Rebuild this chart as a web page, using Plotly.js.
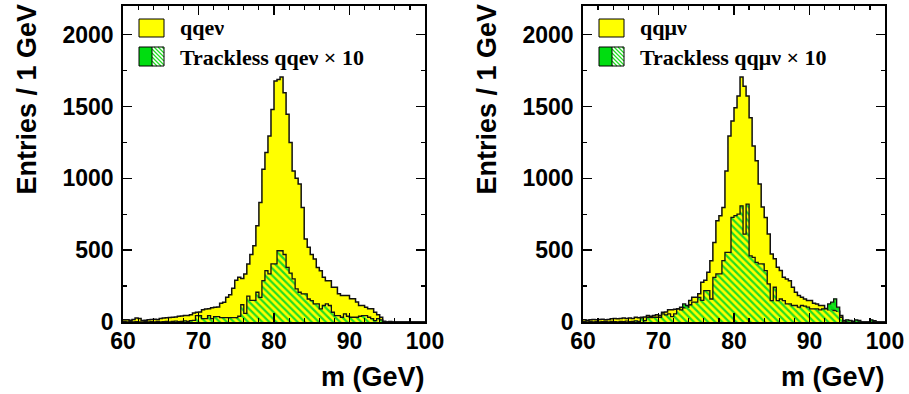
<!DOCTYPE html>
<html><head><meta charset="utf-8">
<script src="https://cdn.plot.ly/plotly-3.0.1.min.js"></script>
<style>html,body{margin:0;padding:0;background:#fff}#chart{width:909px;height:394px}</style>
</head><body><div id="chart"></div>
<script>
// Histogram binning: 60..100 GeV, 0.4 GeV bins
const binLow = 60, binHigh = 100, nBins = 100;

// Left panel: qq e nu, and trackless qq e nu (x10)
const qqenu = [
  15,15,12,18,28,25,10,12,15,18,
  20,18,25,28,30,32,33,35,40,42,
  45,45,50,62,68,70,85,90,92,100,
  103,105,130,138,172,190,235,290,311,302,
  335,404,470,531,670,832,1064,1180,1295,1480,
  1677,1689,1705,1596,1446,1249,1052,1000,960,797,
  578,520,470,439,380,357,311,288,288,242,
  242,196,184,184,184,161,161,140,115,115,
  103,92,92,68,50,33,5,0,3,0,
  0,0,0,0,0,0,0,0,0,0
];
const tracklessQqenu = [
  5,0,3,0,2,0,0,4,0,3,
  0,5,0,3,5,0,4,6,3,5,
  8,5,10,12,45,45,24,24,45,24,
  38,38,30,30,30,30,30,30,40,120,
  60,180,150,150,207,172,288,357,335,404,
  404,496,496,470,380,340,300,230,207,196,
  196,160,149,126,126,92,115,126,115,68,
  45,45,33,57,40,33,33,33,40,45,
  45,33,24,10,24,15,0,0,0,0,
  0,0,0,0,0,0,0,0,0,0
];
// Right panel: qq mu nu, and trackless qq mu nu (x10)
const qqmunu = [
  15,12,15,18,15,18,20,15,18,22,
  25,22,25,28,25,28,25,33,30,33,
  35,45,40,45,50,45,68,70,85,85,
  88,92,103,100,103,150,172,172,196,276,
  290,346,427,554,705,740,797,1052,1295,1400,
  1492,1573,1705,1642,1573,1422,1226,1122,960,800,
  728,612,473,440,381,358,311,300,288,242,
  207,184,172,160,149,149,131,126,115,115,
  92,85,80,80,75,45,10,5,10,5,
  8,0,0,0,0,0,5,0,0,0
];
const tracklessQqmunu = [
  3,0,5,0,3,0,2,5,0,4,
  3,0,5,2,6,3,4,8,5,29,
  10,33,30,33,33,33,57,50,57,38,
  57,92,85,126,115,120,138,138,172,150,
  219,219,160,311,335,335,427,485,485,728,
  740,751,809,612,820,460,450,415,404,404,
  357,265,149,242,149,160,149,126,126,115,
  115,103,115,110,103,92,92,92,85,92,
  95,126,138,161,103,33,0,15,10,0,
  15,12,0,0,0,15,10,0,0,0
];
const xTicks = [60,70,80,90,100];
const yTicks = [0,500,1000,1500,2000];
const labelsLeft = ['qqe\u03bd', 'Trackless qqe\u03bd \u00d7 10'];
const labelsRight = ['qq\u03bc\u03bd', 'Trackless qq\u03bc\u03bd \u00d7 10'];

const W = 909, H = 394;
const bw = (binHigh - binLow) / nBins;
const edges = [];
for (let i = 0; i <= nBins; i++) edges.push(+(binLow + i * bw).toFixed(4));
function stepY(c) { return c.concat([c[c.length - 1]]); }

const YELLOW = '#ffff00', GREEN = '#00dd10';
function panelTraces(main, trk, xa, ya) {
  return [
    { type:'scatter', mode:'lines', x:edges, y:stepY(trk), xaxis:xa, yaxis:ya,
      line:{shape:'hv', width:0, color:GREEN}, fill:'tozeroy', fillcolor:GREEN, hoverinfo:'skip' },
    { type:'scatter', mode:'lines', x:edges, y:stepY(main), xaxis:xa, yaxis:ya,
      line:{shape:'hv', width:1.5, color:'#111'}, fill:'tozeroy', fillcolor:YELLOW, hoverinfo:'skip' },
    { type:'scatter', mode:'lines', x:edges, y:stepY(trk), xaxis:xa, yaxis:ya,
      line:{shape:'hv', width:1.3, color:'#111'}, fill:'tozeroy', fillcolor:'rgba(0,0,0,0)',
      fillpattern:{shape:'\\', fgcolor:'#22dd22', bgcolor:'rgba(0,0,0,0)', size:5, solidity:0.45},
      hoverinfo:'skip' }
  ];
}
const data = panelTraces(qqenu, tracklessQqenu, 'x', 'y')
  .concat(panelTraces(qqmunu, tracklessQqmunu, 'x2', 'y2'));

const tickFont = {family:'Liberation Sans, Arial, sans-serif', size:23, color:'#000', weight:'bold'};
function xAxis(dom, anchor) {
  return {domain:dom, anchor:anchor, range:[binLow, binHigh], tickvals:xTicks, ticktext:xTicks.map(String),
    ticks:'inside', ticklen:9, tickwidth:1.5, tickcolor:'#000', showline:true, linecolor:'#000', linewidth:1.8,
    mirror:'ticks', showgrid:false, zeroline:false, tickfont:tickFont, ticklabelstandoff:-2,
    minor:{dtick:2, tick0:60, ticks:'inside', ticklen:4, tickwidth:1.2, tickcolor:'#000', showgrid:false}};
}
function yAxis(dom, anchor) {
  return {domain:dom, anchor:anchor, range:[0, 2200], tickvals:yTicks, ticktext:yTicks.map(String),
    ticks:'inside', ticklen:9, tickwidth:1.5, tickcolor:'#000', showline:true, linecolor:'#000', linewidth:1.8,
    mirror:'ticks', showgrid:false, zeroline:false, tickfont:tickFont, ticklabelstandoff:3,
    minor:{dtick:250, tick0:0, ticks:'inside', ticklen:4, tickwidth:1.2, tickcolor:'#000', showgrid:false}};
}
const yDom = [(H - 322) / H, (H - 6) / H];

const px = x => x / W, py = y => 1 - y / H;
const shapes = [], annotations = [];
const titleFont = {family:'Liberation Sans, Arial, sans-serif', size:27, color:'#000', weight:'bold'};
const legFont = {family:'Liberation Serif, Times New Roman, serif', size:22, color:'#000', weight:'bold'};
[[0, labelsLeft], [460, labelsRight]].forEach(([off, labels]) => {
  // legend boxes
  shapes.push({type:'rect', xref:'paper', yref:'paper', x0:px(139+off), x1:px(164+off), y0:py(37), y1:py(19),
    fillcolor:YELLOW, line:{color:'#000', width:1}});
  shapes.push({type:'rect', xref:'paper', yref:'paper', x0:px(139+off), x1:px(152+off), y0:py(66), y1:py(47),
    fillcolor:GREEN, line:{width:0}});
  const bx0 = 152+off, bx1 = 164+off, by0 = 47, by1 = 66;
  for (let c = by0 - bx1 + 2; c < by1 - bx0; c += 4) {
    const xa = Math.max(bx0, by0 - c), xb = Math.min(bx1, by1 - c);
    if (xb <= xa) continue;
    shapes.push({type:'line', xref:'paper', yref:'paper', x0:px(xa), y0:py(xa + c), x1:px(xb), y1:py(xb + c),
      line:{color:'#22dd22', width:1.3}});
  }
  shapes.push({type:'rect', xref:'paper', yref:'paper', x0:px(139+off), x1:px(164+off), y0:py(66), y1:py(47),
    fillcolor:'rgba(0,0,0,0)', line:{color:'#000', width:1}});
  shapes.push({type:'line', xref:'paper', yref:'paper', x0:px(152+off), x1:px(152+off), y0:py(66), y1:py(47),
    line:{color:'#000', width:1}});
  annotations.push({xref:'paper', yref:'paper', x:px(178+off), y:py(28), xanchor:'left', yanchor:'middle',
    text:labels[0], showarrow:false, font:legFont});
  annotations.push({xref:'paper', yref:'paper', x:px(178+off), y:py(57), xanchor:'left', yanchor:'middle',
    text:labels[1], showarrow:false, font:legFont});
  // axis titles
  annotations.push({xref:'paper', yref:'paper', x:px(26+off), y:py(2), xanchor:'center', yanchor:'top',
    textangle:-90, text:'Entries / 1 GeV', showarrow:false, font:titleFont});
  annotations.push({xref:'paper', yref:'paper', x:px(427+off), y:py(377), xanchor:'right', yanchor:'middle',
    text:'m (GeV)', showarrow:false, font:titleFont});
});

const layout = {
  width:W, height:H, margin:{l:0, r:0, t:0, b:0}, showlegend:false,
  paper_bgcolor:'#fff', plot_bgcolor:'#fff',
  xaxis:xAxis([123/W, 425/W], 'y'), yaxis:yAxis(yDom, 'x'),
  xaxis2:xAxis([583/W, 885/W], 'y2'), yaxis2:yAxis(yDom, 'x2'),
  shapes:shapes, annotations:annotations
};
Plotly.newPlot('chart', data, layout, {staticPlot:true, displayModeBar:false});
</script></body></html>
